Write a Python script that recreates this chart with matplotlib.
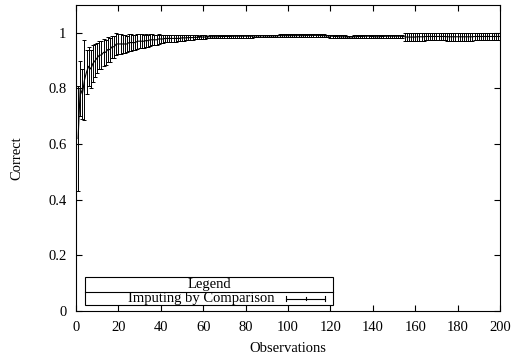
import numpy as np
import matplotlib
matplotlib.use('Agg')
import matplotlib.pyplot as plt
from matplotlib.patches import Rectangle

plt.rcParams['font.family'] = ['Liberation Serif', 'DejaVu Serif']

# Observations 1..200, mean fraction correct and error bar half-width
observations = list(range(1, 201))

correct = [
    0.62, 0.80, 0.78, 0.83, 0.86, 0.88, 0.87, 0.89, 0.90, 0.91,
    0.92, 0.92, 0.93, 0.93, 0.94, 0.94, 0.95, 0.95, 0.96, 0.96,
    0.96, 0.96, 0.96, 0.96, 0.965, 0.965, 0.965, 0.965, 0.97, 0.97,
    0.97, 0.97, 0.972, 0.972, 0.975, 0.975, 0.975, 0.975, 0.978, 0.978,
    0.978, 0.98, 0.98, 0.98, 0.98, 0.98, 0.98, 0.98, 0.98, 0.982,
    0.982, 0.982, 0.983, 0.983, 0.983, 0.984, 0.984, 0.984, 0.985, 0.985,
    0.985, 0.985, 0.986, 0.986, 0.986, 0.986, 0.986, 0.987, 0.987, 0.987,
    0.987, 0.987, 0.987, 0.988, 0.988, 0.988, 0.988, 0.988, 0.988, 0.988,
    0.988, 0.988, 0.988, 0.989, 0.989, 0.989, 0.989, 0.989, 0.989, 0.989,
    0.989, 0.989, 0.989, 0.989, 0.989, 0.990, 0.990, 0.990, 0.990, 0.990,
    0.990, 0.990, 0.990, 0.990, 0.990, 0.990, 0.990, 0.990, 0.991, 0.991,
    0.991, 0.991, 0.991, 0.991, 0.991, 0.990, 0.990, 0.989, 0.989, 0.988,
    0.988, 0.987, 0.987, 0.986, 0.986, 0.986, 0.986, 0.985, 0.985, 0.985,
    0.986, 0.986, 0.987, 0.987, 0.987, 0.988, 0.988, 0.988, 0.987, 0.987,
    0.986, 0.986, 0.986, 0.987, 0.987, 0.988, 0.988, 0.988, 0.988, 0.988,
    0.988, 0.988, 0.988, 0.987, 0.986, 0.985, 0.985, 0.985, 0.985, 0.985,
    0.986, 0.986, 0.986, 0.986, 0.987, 0.987, 0.987, 0.987, 0.987, 0.987,
    0.987, 0.987, 0.987, 0.987, 0.986, 0.986, 0.986, 0.986, 0.986, 0.986,
    0.986, 0.986, 0.986, 0.986, 0.986, 0.986, 0.986, 0.987, 0.987, 0.987,
    0.987, 0.987, 0.987, 0.987, 0.987, 0.987, 0.987, 0.987, 0.987, 0.987,
]

error = [
    0.19, 0.10, 0.09, 0.145, 0.08, 0.07, 0.07, 0.065, 0.06, 0.055,
    0.05, 0.05, 0.048, 0.045, 0.045, 0.043, 0.04, 0.04, 0.038, 0.036,
    0.035, 0.033, 0.032, 0.03, 0.03, 0.03, 0.028, 0.028, 0.027, 0.026,
    0.025, 0.024, 0.023, 0.022, 0.021, 0.02, 0.019, 0.018, 0.017, 0.016,
    0.015, 0.014, 0.014, 0.013, 0.013, 0.012, 0.012, 0.011, 0.011, 0.010,
    0.010, 0.009, 0.009, 0.008, 0.008, 0.007, 0.007, 0.006, 0.006, 0.006,
    0.006, 0.005, 0.005, 0.005, 0.005, 0.005, 0.005, 0.005, 0.005, 0.005,
    0.005, 0.005, 0.005, 0.005, 0.005, 0.005, 0.005, 0.005, 0.005, 0.005,
    0.005, 0.005, 0.005, 0.005, 0.005, 0.005, 0.005, 0.005, 0.005, 0.005,
    0.005, 0.005, 0.005, 0.005, 0.005, 0.005, 0.005, 0.005, 0.005, 0.005,
    0.005, 0.005, 0.005, 0.005, 0.005, 0.005, 0.005, 0.005, 0.005, 0.005,
    0.005, 0.005, 0.005, 0.005, 0.005, 0.005, 0.005, 0.005, 0.005, 0.005,
    0.005, 0.005, 0.005, 0.005, 0.005, 0.005, 0.005, 0.005, 0.005, 0.005,
    0.005, 0.005, 0.005, 0.005, 0.005, 0.005, 0.005, 0.005, 0.005, 0.005,
    0.005, 0.005, 0.005, 0.005, 0.005, 0.005, 0.005, 0.005, 0.005, 0.005,
    0.005, 0.005, 0.005, 0.005, 0.014, 0.014, 0.014, 0.014, 0.014, 0.014,
    0.014, 0.014, 0.014, 0.014, 0.014, 0.014, 0.014, 0.014, 0.014, 0.014,
    0.014, 0.014, 0.014, 0.014, 0.014, 0.014, 0.014, 0.014, 0.014, 0.014,
    0.014, 0.014, 0.014, 0.014, 0.014, 0.014, 0.014, 0.014, 0.013, 0.013,
    0.013, 0.013, 0.013, 0.013, 0.013, 0.013, 0.013, 0.013, 0.013, 0.013,
]

series_label = 'Imputing by Comparison'
x_ticks = [0, 20, 40, 60, 80, 100, 120, 140, 160, 180, 200]
y_ticks = [0, 0.2, 0.4, 0.6, 0.8, 1]
y_tick_labels = ['0', '0.2', '0.4', '0.6', '0.8', '1']

fig = plt.figure(figsize=(5.11, 3.6), dpi=100)
ax = fig.add_axes([0.1487, 0.1361, 0.8298, 0.8499])

ax.errorbar(observations, correct, yerr=error, color='black', lw=0.8,
            elinewidth=0.7, capsize=1.5, capthick=0.7, label=series_label)

ax.set_xlim(0, 200)
ax.set_ylim(0, 1.1)
ax.set_xticks(x_ticks)
ax.set_yticks(y_ticks)
ax.set_yticklabels(y_tick_labels)
ax.tick_params(direction='in', length=4, width=0.8, top=True, right=True,
               labelsize=10.5, pad=7)
for s in ax.spines.values():
    s.set_linewidth(0.8)

ax.set_xlabel('Observations', fontsize=10.5, labelpad=6)
ax.set_ylabel('Correct', fontsize=10.5, labelpad=18)

# gnuplot-style key box: title row on top, entry row below
T = ax.transAxes
kw = dict(transform=T, clip_on=False, zorder=5)
ax.add_patch(Rectangle((0.0212, 0.0196), 0.5848, 0.0914, facecolor='white',
                       edgecolor='black', lw=0.8, **kw))
ax.plot([0.0212, 0.606], [0.062, 0.062], color='black', lw=0.8, **kw)
ax.text(0.3137, 0.0866, 'Legend', ha='center', va='center', fontsize=10.5, **kw)
ax.text(0.4693, 0.0408, series_label, ha='right', va='center', fontsize=10.5, **kw)
ky, kh = 0.0408, 0.009
ax.plot([0.4953, 0.5873], [ky, ky], color='black', lw=0.8, **kw)
for kx, s in [(0.4953, 1.0), (0.5873, 1.0), (0.542, 0.6)]:
    ax.plot([kx, kx], [ky - kh * s, ky + kh * s], color='black', lw=0.8, **kw)

fig.savefig('out.png', dpi=100)
